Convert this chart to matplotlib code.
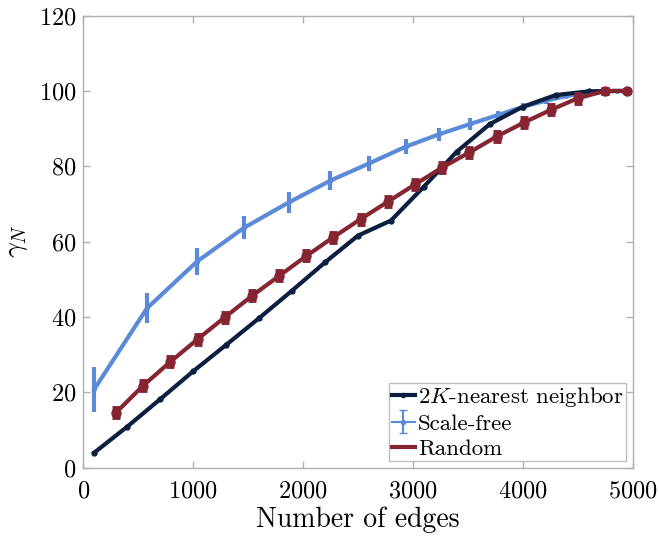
import matplotlib
matplotlib.use("Agg")
import numpy as np
import matplotlib.pyplot as plt
from matplotlib.lines import Line2D

plt.rcParams["font.family"] = ["cmr10", "DejaVu Serif"]
plt.rcParams["mathtext.fontset"] = "cm"
plt.rcParams["axes.formatter.use_mathtext"] = True

# 2K-nearest neighbor lattice
knn_edges = [100, 400, 700, 1000, 1300, 1600, 1900, 2200, 2500, 2800,
             3100, 3400, 3700, 4000, 4300, 4600, 4950]
knn_gamma = [4.0, 10.9, 18.2, 25.6, 32.6, 39.7, 47.0, 54.5, 61.6, 65.6,
             74.6, 83.9, 91.2, 95.8, 98.9, 99.9, 100.0]

# Scale-free networks (mean and spread)
sf_edges = [99, 579, 1034, 1464, 1869, 2249, 2604, 2934, 3239, 3519,
            3774, 4004, 4209, 4389, 4544, 4674, 4779, 4859, 4914, 4944]
sf_gamma = [20.8, 42.3, 54.7, 63.7, 70.4, 76.2, 80.8, 85.2, 88.5, 91.2,
            93.6, 95.8, 97.4, 98.6, 99.4, 99.8, 100.0, 100.0, 100.0, 100.0]
sf_err = [6.0, 4.0, 3.5, 3.1, 2.8, 2.5, 2.0, 2.0, 1.7, 1.5,
          1.2, 1.0, 0.8, 0.6, 0.4, 0.3, 0.2, 0.1, 0.1, 0.0]

# Random networks (mean and spread)
rnd_edges = [297, 545, 792, 1040, 1287, 1535, 1782, 2030, 2277, 2525,
             2772, 3020, 3267, 3515, 3762, 4010, 4257, 4505, 4752, 4950]
rnd_gamma = [14.6, 21.8, 28.1, 34.1, 39.9, 45.6, 50.9, 56.2, 61.2, 66.0,
             70.6, 75.2, 79.7, 83.7, 87.9, 91.6, 95.0, 98.1, 100.0, 100.0]
rnd_err = [1.2] * 18 + [0.5, 0.3]

x_ticks = [0, 1000, 2000, 3000, 4000, 5000]
y_ticks = [0, 20, 40, 60, 80, 100, 120]

c_knn = "#0c1f40"
c_sf = "#5b8ad8"
c_rnd = "#862432"
c_frame = "#b0b0b0"

fig = plt.figure(figsize=(6.59, 5.37), dpi=100)
ax = fig.add_axes([0.1264, 0.129, 0.8336, 0.842])

ax.errorbar(sf_edges, sf_gamma, yerr=sf_err, color=c_sf, lw=3,
            elinewidth=3, capsize=0, marker="o", ms=2.5, zorder=2)
ax.plot(knn_edges, knn_gamma, color=c_knn, lw=3, marker="o", ms=3.5,
        zorder=3)
ax.errorbar(rnd_edges, rnd_gamma, yerr=rnd_err, color=c_rnd, lw=3,
            elinewidth=4, capsize=3, capthick=3.5, marker="o", ms=6.5,
            zorder=4)

ax.set_xlim(0, 5000)
ax.set_ylim(0, 120)
ax.set_xticks(x_ticks)
ax.set_yticks(y_ticks)
ax.tick_params(direction="in", top=True, right=True, length=5, width=1,
               color=c_frame, labelsize=17.5)
ax.tick_params(axis="x", pad=9)
ax.tick_params(axis="y", pad=5)
for s in ax.spines.values():
    s.set_color(c_frame)
    s.set_linewidth(1)

ax.set_xlabel("Number of edges", fontsize=20, labelpad=3)
ax.set_ylabel(r"$\gamma_N$", fontsize=20, labelpad=6)

# legend proxies
lg_knn = Line2D([], [], color=c_knn, lw=3, marker="o", ms=3)
lg_sf = ax.errorbar([np.nan], [np.nan], yerr=[1.0], color=c_sf, lw=1.5,
                    elinewidth=1.5, capsize=3, marker="o", ms=3)
lg_rnd = Line2D([], [], color=c_rnd, lw=3)

leg = ax.legend(handles=[lg_knn, lg_sf, lg_rnd],
                labels=["$2K$-nearest neighbor", "Scale-free", "Random"],
                loc="lower right", fontsize=16.5, fancybox=False,
                borderaxespad=0.3, handlelength=1.0, handletextpad=0.15,
                borderpad=0.1, labelspacing=0.2)
leg.get_frame().set_edgecolor(c_frame)
leg.get_frame().set_linewidth(1)

fig.savefig("out.png", dpi=100)
